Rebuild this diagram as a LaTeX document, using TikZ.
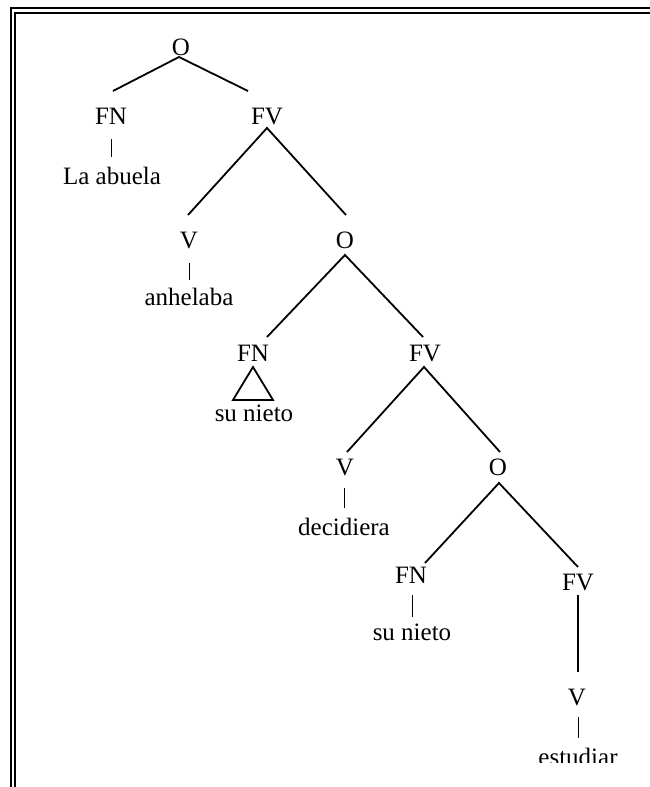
\documentclass[tikz,border=0pt]{standalone}
\usepackage{fontspec}
\setmainfont{Liberation Serif}
\begin{document}
\begin{tikzpicture}[x=1pt,y=-1pt,
  lbl/.style={anchor=base,inner sep=0pt,font=\fontsize{25}{30}\selectfont},
  edge/.style={line width=1.8pt},
  stub/.style={line width=0.8pt},
  frame/.style={line width=1.6pt}]
\useasboundingbox (0,0) rectangle (650,787);
% frame (top and left double rule)
\draw[frame] (11,787) -- (11,8.2) -- (650,8.2);
\draw[frame] (15,787) -- (15,12.8) -- (650,12.8);
% labels
\node[lbl] (O1) at (181,55) {O};
\node[lbl] (FN1) at (111,124) {FN};
\node[lbl] (FV1) at (267,124) {FV};
\node[lbl] (W1) at (112,184) {La abuela};
\node[lbl] (V1) at (189,248) {V};
\node[lbl] (O2) at (345,248) {O};
\node[lbl] (W2) at (189,305) {anhelaba};
\node[lbl] (FN2) at (253,361) {FN};
\node[lbl] (FV2) at (425,361) {FV};
\node[lbl] (W3) at (254,421) {su nieto};
\node[lbl] (V2) at (345,475) {V};
\node[lbl] (O3) at (498,475) {O};
\node[lbl] (W4) at (344,535) {decidiera};
\node[lbl] (FN3) at (411,583) {FN};
\node[lbl] (FV3) at (578,590) {FV};
\node[lbl] (W5) at (412,640) {su nieto};
\node[lbl] (V3) at (577,705) {V};
\begin{scope}
\clip (0,0) rectangle (650,762);
\node[lbl] (W6) at (578,765) {estudiar};
\end{scope}
% attachment points
\coordinate (O1b) at (179,57);
\coordinate (FN1t) at (113,91);
\coordinate (FV1t) at (248,91);
\coordinate (FN1b) at (111,139);
\coordinate (W1t) at (111,157);
\coordinate (FV1b) at (267,128);
\coordinate (V1t) at (188,215);
\coordinate (O2t) at (346,215);
\coordinate (V1b) at (189,263);
\coordinate (W2t) at (189,280);
\coordinate (O2b) at (345,255);
\coordinate (FN2t) at (267,337);
\coordinate (FV2t) at (423,337);
\coordinate (FN2b) at (253,367);
\coordinate (W3l) at (233,400);
\coordinate (W3r) at (273,400);
\coordinate (FV2b) at (424,367);
\coordinate (V2t) at (347,452);
\coordinate (O3t) at (500,452);
\coordinate (V2b) at (344,488);
\coordinate (W4t) at (344,508);
\coordinate (O3b) at (499,483);
\coordinate (FN3t) at (425,563);
\coordinate (FV3t) at (578,567);
\coordinate (FN3b) at (412,595);
\coordinate (W5t) at (412,617);
\coordinate (FV3b) at (578,595);
\coordinate (V3t) at (578,672);
\coordinate (V3b) at (578,717);
\coordinate (W6t) at (578,738);
% connectors
\draw[edge] (FN1t) -- (O1b) -- (FV1t);
\draw[stub] (FN1b) -- (W1t);
\draw[edge] (V1t) -- (FV1b) -- (O2t);
\draw[stub] (V1b) -- (W2t);
\draw[edge] (FN2t) -- (O2b) -- (FV2t);
\draw[edge] (W3l) -- (FN2b) -- (W3r) -- cycle;
\draw[edge] (V2t) -- (FV2b) -- (O3t);
\draw[stub] (V2b) -- (W4t);
\draw[edge] (FN3t) -- (O3b) -- (FV3t);
\draw[stub] (FN3b) -- (W5t);
\draw[edge] (FV3b) -- (V3t);
\draw[stub] (V3b) -- (W6t);
\end{tikzpicture}
\end{document}
